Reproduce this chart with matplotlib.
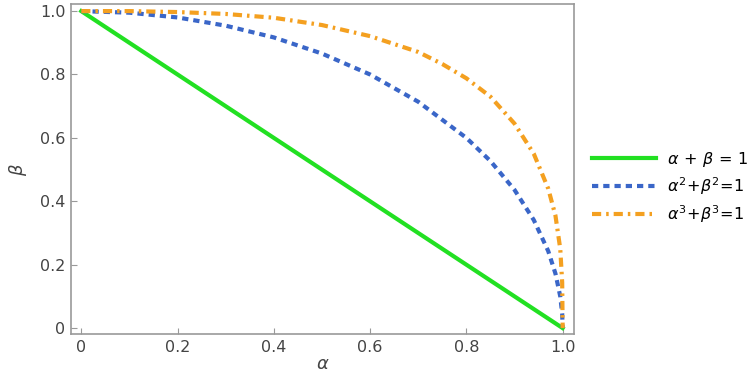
import matplotlib
matplotlib.use("Agg")
import matplotlib.pyplot as plt

plt.rcParams['font.family'] = ['DejaVu Sans']

# values
alpha_lin = [0.0, 1.0]
beta_lin = [1.0, 0.0]

alpha_sq = [0.0, 0.1, 0.2, 0.3, 0.4, 0.5, 0.6, 0.7, 0.8, 0.85, 0.9, 0.94, 0.97,
            0.985, 0.995, 0.999, 1.0]
beta_sq = [1.0, 0.995, 0.98, 0.954, 0.917, 0.866, 0.80, 0.714, 0.60, 0.527,
           0.436, 0.341, 0.243, 0.172, 0.10, 0.045, 0.0]

alpha_cu = [0.0, 0.1, 0.2, 0.3, 0.4, 0.5, 0.6, 0.7, 0.75, 0.8, 0.85, 0.9, 0.94,
            0.97, 0.985, 0.995, 0.999, 1.0]
beta_cu = [1.0, 1.0, 0.997, 0.991, 0.979, 0.956, 0.921, 0.871, 0.833, 0.788,
           0.73, 0.645, 0.55, 0.44, 0.355, 0.25, 0.144, 0.0]

labels = [r"$\alpha\,+\,\beta\,=\,1$", r"$\alpha^2\!+\!\beta^2\!=\!1$",
          r"$\alpha^3\!+\!\beta^3\!=\!1$"]
ticks = [0, 0.2, 0.4, 0.6, 0.8, 1.0]
tick_labels = ["0", "0.2", "0.4", "0.6", "0.8", "1.0"]

fig = plt.figure(figsize=(7.49, 3.75), dpi=100)
ax = fig.add_axes([0.095, 0.109, 0.671, 0.880])

ax.plot(alpha_lin, beta_lin, color="#22e022", lw=3, label=labels[0])
ax.plot(alpha_sq, beta_sq, color="#3a66c8", lw=3, linestyle=(0, (1.5, 1.2)),
        label=labels[1])
ax.plot(alpha_cu, beta_cu, color="#f4a020", lw=3,
        linestyle=(0, (2.2, 1.2, 0.6, 1.2)), label=labels[2])

ax.set_xlim(-0.021, 1.023)
ax.set_ylim(-0.019, 1.022)
ax.set_xticks(ticks)
ax.set_xticklabels(tick_labels)
ax.set_yticks(ticks)
ax.set_yticklabels(tick_labels)
ax.tick_params(direction="in", length=4, color="#999999", labelcolor="#444444",
               labelsize=11.5, pad=4)
for s in ax.spines.values():
    s.set_color("#999999")
    s.set_linewidth(1.2)

ax.set_xlabel(r"$\alpha$", fontsize=13, color="#444444", labelpad=0)
ax.set_ylabel(r"$\beta$", fontsize=13, color="#444444", labelpad=8)

ax.legend(loc="center left", bbox_to_anchor=(1.036, 0.445), frameon=False,
          fontsize=11.5, handlelength=4.0, handletextpad=0.7,
          labelspacing=0.4, borderpad=0, borderaxespad=0)

plt.savefig("out.png", dpi=100)
